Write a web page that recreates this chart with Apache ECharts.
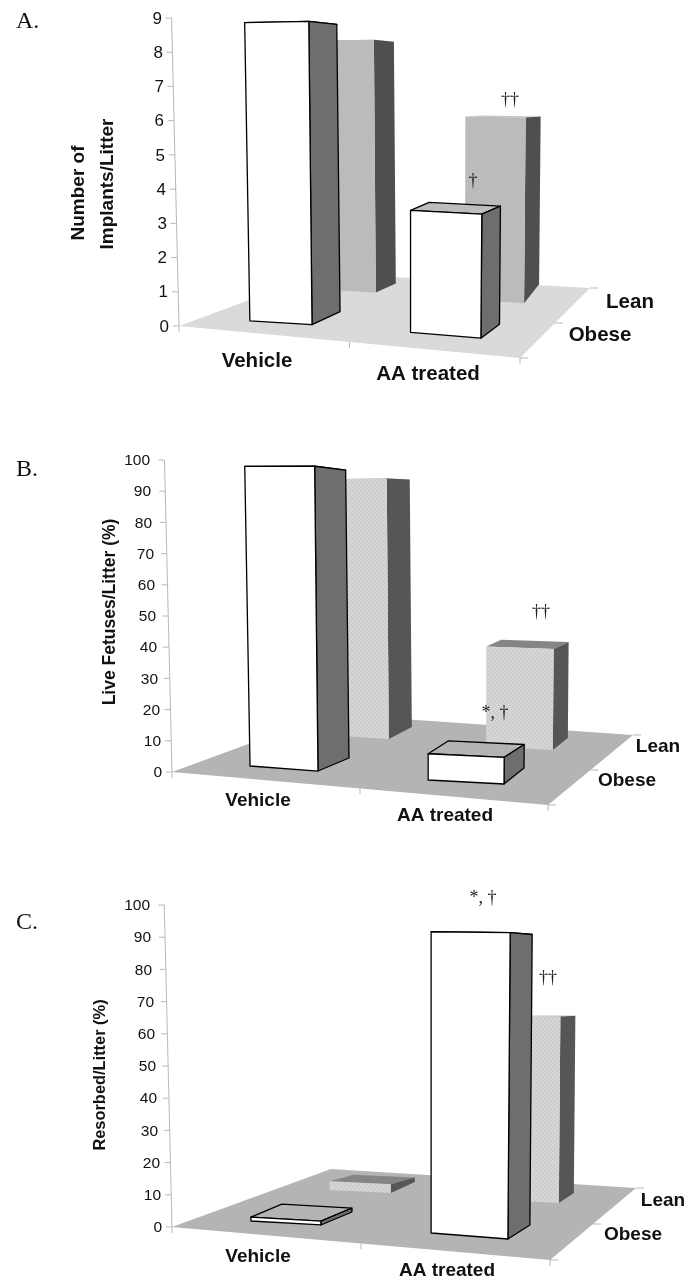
<!DOCTYPE html>
<html><head><meta charset="utf-8">
<style>html,body{margin:0;padding:0;background:#fff}#c{width:699px;height:1282px}</style>
<script src="https://cdn.jsdelivr.net/npm/echarts@6/dist/echarts.min.js"></script>
</head><body><div id="c"></div>
<script>
// ---- data ----
const categories = ['Vehicle', 'AA treated'];
const depths = ['Obese', 'Lean'];
const implantsObese = [8.8, 3.6];
const implantsLean = [8.1, 5.95];
const liveObese = [97, 8.5];
const liveLean = [91.5, 35.5];
const resorbedObese = [1.2, 94.5];
const resorbedLean = [3, 63.5];
const implantTicks = {max: 9, interval: 1};
const percentTicks = {max: 100, interval: 10};
const titles = [['Number of', 'Implants/Litter'], ['Live Fetuses/Litter (%)'], ['Resorbed/Litter (%)']];
const letters = ['A.', 'B.', 'C.'];

// ---- layout and style (no values) ----
function pattern(a, b, n) {
  const c = document.createElement('canvas'); c.width = c.height = n * 2;
  const g = c.getContext('2d');
  g.fillStyle = a; g.fillRect(0, 0, n * 2, n * 2);
  g.fillStyle = b; g.fillRect(0, 0, n, n); g.fillRect(n, n, n, n);
  return {image: c, repeat: 'repeat'};
}
const panels = [
  { obese: implantsObese, lean: implantsLean, ticks: implantTicks, title: titles[0], letter: letters[0],
    left: 179, right: 520, top: 18, zero: 326, drop: 32, back: [70, -70], backLeft: [143, -53],
    floor: '#dadada', leanFront: pattern('#b4b4b4', '#c2c2c2', 1), leanTop: '#c4c4c4', obeseTop: '#bdbdbd',
    leanSide: '#4f4f4f', tickFont: 17, labelSpan: 7, catFont: 20.5,
    nameFont: 19, namePos: [[79, 193], [108, 184]],
    letterPos: [16, 22], catPos: [[257, 361], [428, 374]], depthPos: [[600, 335], [630, 302]],
    notes: [['††', 510, 100], ['†', 473, 181]],
    geo: { // [u0,v0,u1,v1,sideDx,sideDy,s]
      0: [[.176, .155, .353, .181, 28, -13, .053], [.27, .65, .438, .678, 20, -9, .044]],
      1: [[.638, .2, .842, .211, 18.6, -14, .048], [.695, .7, .864, .721, 15, -19, .097]] } },
  { obese: liveObese, lean: liveLean, ticks: percentTicks, title: titles[1], letter: letters[1],
    left: 172, right: 548, top: 460, zero: 772, drop: 33, back: [85, -70], backLeft: [158, -58],
    floor: '#b4b4b4', leanFront: pattern('#cdcdcd', '#d6d6d6', 2), leanTop: '#858585', obeseTop: '#b4b4b4',
    leanSide: '#565656', tickFont: 15.5, labelSpan: 12, catFont: 19,
    nameFont: 17.5, namePos: [[110, 612]],
    letterPos: [16, 470], catPos: [[258, 801], [445, 816]], depthPos: [[627, 781], [658, 747]],
    notes: [['††', 541, 612], ['*, †', 495, 713]],
    geo: {
      0: [[.17, .166, .348, .178, 31, -13, .055], [.265, .65, .425, .671, 23, -12, .05]],
      1: [[.639, .187, .833, .221, 20, -16, .12], [.679, .692, .851, .716, 15, -12, .05]] } },
  { obese: resorbedObese, lean: resorbedLean, ticks: percentTicks, title: titles[2], letter: letters[2],
    left: 172, right: 550, top: 905, zero: 1227, drop: 33, back: [86, -72], backLeft: [159, -58],
    floor: '#b4b4b4', leanFront: pattern('#cdcdcd', '#d6d6d6', 2), leanTop: '#858585', obeseTop: '#b4b4b4',
    leanSide: '#565656', tickFont: 15.5, labelSpan: 12, catFont: 19,
    nameFont: 16.4, namePos: [[100, 1075]],
    letterPos: [16, 923], catPos: [[258, 1257], [447, 1271]], depthPos: [[633, 1235], [663, 1201]],
    notes: [['*, †', 483, 898], ['††', 548, 978]],
    geo: {
      0: [[.172, .162, .351, .189, 31, -13, 0], [.272, .639, .427, .668, 24, -11, .5]],
      1: [[.638, .209, .839, .218, 22, -14, .052], [.70, .70, .858, .727, 15, -10, .05]] } }
];
const LEAN_K = 0.906, AXIS_TILT = 0.024, TILT_ZERO = 0.64;
const tilt = u => -AXIS_TILT * (1 - u / TILT_ZERO);

function floorRender(p) {
  return function (params, api) {
    const band = api.size([1, 0])[0];
    const z = api.coord([0, 0]);
    const O = [z[0] - band / 2, z[1]];
    const W = band * 2;
    const F = [O[0] + W, O[1] + p.drop];
    const R = [F[0] + p.back[0], F[1] + p.back[1]];
    const L = [O[0] + p.backLeft[0], O[1] + p.backLeft[1]];
    const line = (a, b) => ({type: 'line', silent: true,
      shape: {x1: a[0], y1: a[1], x2: b[0], y2: b[1]}, style: {stroke: '#b8b8b8', lineWidth: 1}});
    const ch = [{type: 'polygon', silent: true, shape: {points: [O, F, R, L]}, style: {fill: p.floor}}];
    const topY = api.coord([0, p.ticks.max])[1];
    const H = O[1] - topY;
    ch.push(line(O, [O[0] - H * AXIS_TILT, topY]));
    for (let t = 0; t <= p.ticks.max; t += p.ticks.interval) {
      const y = api.coord([0, t])[1];
      const x = O[0] - (O[1] - y) * AXIS_TILT;
      ch.push(line([x - 6, y], [x, y]));
    }
    ch.push(line(O, [O[0], O[1] + 6]));
    ch.push(line(F, [F[0], F[1] + 6]));
    const Mx = (O[0] + F[0]) / 2, My = (O[1] + F[1]) / 2;
    ch.push(line([Mx, My], [Mx, My + 6]));
    ch.push(line(F, [F[0] + 8, F[1]]));
    ch.push(line(R, [R[0] + 8, R[1]]));
    ch.push(line([(F[0] + R[0]) / 2, (F[1] + R[1]) / 2], [(F[0] + R[0]) / 2 + 8, (F[1] + R[1]) / 2]));
    return {type: 'group', children: ch};
  };
}

function barRender(p) {
  return function (params, api) {
    const cat = api.value(0), val = api.value(1), depth = api.value(2);
    const g = p.geo[cat][depth];
    const band = api.size([1, 0])[0];
    const z = api.coord([0, 0]);
    const Ox = z[0] - band / 2, Oy = z[1], W = band * 2;
    const pt = (u, v) => [Ox + u * W + v * p.back[0], Oy + u * p.drop + v * p.back[1]];
    const k = depth === 1 ? LEAN_K : 1;
    const full = (Oy - api.coord([cat, val])[1]) * k;
    const hL = full * 0.99, hR = full * 1.007;
    const BL = pt(g[0], g[1]), BR = pt(g[2], g[3]);
    const TL = [BL[0] + tilt(g[0]) * hL, BL[1] - hL];
    const TR = [BR[0] + tilt(g[2]) * hR, BR[1] - hR];
    const sdx = g[4], sdy = g[5], topDy = sdy + g[6] * hR;
    const SB = [BR[0] + sdx, BR[1] + sdy];
    const ST = [TR[0] + sdx, TR[1] + topDy];
    const BK = [TL[0] + sdx, TL[1] + topDy];
    const obese = depth === 0;
    const stroke = obese ? {stroke: '#000', lineWidth: 1.3, lineJoin: 'round'} : {};
    const poly = (pts, fill) => ({type: 'polygon', shape: {points: pts},
      style: Object.assign({fill: fill}, stroke)});
    return {type: 'group', children: [
      poly([TL, TR, ST, BK], obese ? p.obeseTop : p.leanTop),
      poly([BR, SB, ST, TR], obese ? '#6e6e6e' : p.leanSide),
      poly([BL, BR, TR, TL], obese ? '#ffffff' : p.leanFront)
    ]};
  };
}

const grids = [], xAxes = [], yAxes = [], series = [], graphics = [];
const SANS = '"Liberation Sans", Arial, sans-serif';
const SERIF = '"Liberation Serif", serif';
panels.forEach((p, i) => {
  grids.push({left: p.left, width: p.right - p.left, top: p.top, height: p.zero - p.top});
  xAxes.push({type: 'category', gridIndex: i, data: categories, show: false});
  const rich = {t: {fontFamily: SANS, fontSize: p.tickFont, color: '#111', padding: [2, 0, 0, 0]}};
  for (let t = 0; t <= p.ticks.max; t += p.ticks.interval) {
    rich['s' + t] = {width: Math.round(p.labelSpan * t / p.ticks.max), height: 1};
  }
  yAxes.push({type: 'value', gridIndex: i, min: 0, max: p.ticks.max, interval: p.ticks.interval,
    splitLine: {show: false}, axisLine: {show: false}, axisTick: {show: false},
    axisLabel: {margin: 10, rich: rich, formatter: v => '{t|' + v + '}{s' + v + '|}'}});
  series.push({type: 'custom', xAxisIndex: i, yAxisIndex: i, silent: true, z: 1,
    renderItem: floorRender(p), data: [[0, 0]], encode: {x: 0, y: 1}});
  const rows = [];
  [1, 0].forEach(d => categories.forEach((c, ci) => {
    rows.push([ci, (d === 0 ? p.obese : p.lean)[ci], d]);
  }));
  series.push({type: 'custom', name: p.letter, xAxisIndex: i, yAxisIndex: i, silent: true, z: 2,
    renderItem: barRender(p), data: rows, encode: {x: 0, y: 1}});
  graphics.push({type: 'text', x: p.letterPos[0], y: p.letterPos[1], silent: true,
    style: {text: p.letter, font: '24px ' + SERIF, fill: '#111', textVerticalAlign: 'middle'}});
  p.title.forEach((line, li) => graphics.push({type: 'text', x: p.namePos[li][0], y: p.namePos[li][1],
    rotation: Math.PI / 2, silent: true,
    style: {text: line, font: 'bold ' + p.nameFont + 'px ' + SANS, fill: '#111', textAlign: 'center', textVerticalAlign: 'middle'}}));
  const label = (txt, pos) => graphics.push({type: 'text', x: pos[0], y: pos[1], silent: true,
    style: {text: txt, font: 'bold ' + p.catFont + 'px ' + SANS, fill: '#111', textAlign: 'center', textVerticalAlign: 'middle'}});
  categories.forEach((c, ci) => label(c, p.catPos[ci]));
  depths.forEach((d, di) => label(d, p.depthPos[di]));
  p.notes.forEach(n => graphics.push({type: 'text', x: n[1], y: n[2], silent: true, z: 10,
    style: {text: n[0], font: '18px ' + SERIF, fill: '#222', textAlign: 'center', textVerticalAlign: 'middle'}}));
});

const chart = echarts.init(document.getElementById('c'), null, {renderer: 'canvas'});
chart.setOption({animation: false, backgroundColor: '#fff', grid: grids, xAxis: xAxes, yAxis: yAxes,
  series: series, graphic: {elements: graphics}});
</script></body></html>
